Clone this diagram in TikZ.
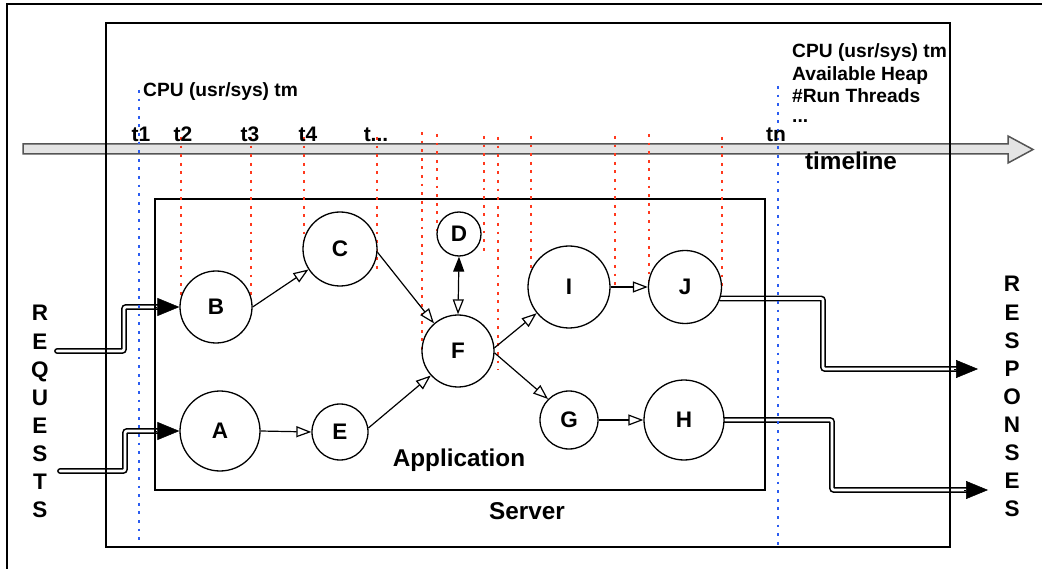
\documentclass[tikz,border=0pt]{standalone}
\usepackage{fontspec}
\setmainfont{Liberation Sans}
\usetikzlibrary{arrows.meta,calc}

\definecolor{dotred}{HTML}{FF3A1E}
\definecolor{dotblue}{HTML}{2B5CF0}
\definecolor{barfill}{HTML}{E4E4E4}
\definecolor{baredge}{HTML}{555555}

\pgfdeclarelayer{back}
\pgfsetlayers{back,main}

\begin{document}
\begin{tikzpicture}[x=1pt,y=-1pt,
  boxline/.style={line width=1.5pt},
  proc/.style={circle, draw, line width=1.3pt, fill=white, inner sep=0pt,
    font=\fontsize{22.5}{22}\selectfont\bfseries},
  flow/.style={line width=1.2pt, -{Triangle[open,length=15pt,width=11pt]}},
  probe/.style={dotred, line width=2.3pt, dash pattern=on 2.8pt off 5.8pt},
  clock/.style={dotblue, line width=2.3pt, dash pattern=on 2.8pt off 5.8pt},
  io/.style={line width=1.6pt, double=white, double distance=2.6pt,
    line cap=round, rounded corners=2pt},
  iotip/.style={line width=0.5pt, -{Triangle[length=22pt,width=18pt]}},
  lbl/.style={font=\fontsize{19.2}{22}\selectfont\bfseries, anchor=base west, inner sep=0pt},
  tick/.style={font=\fontsize{21}{22}\selectfont\bfseries, anchor=base, inner sep=0pt},
  big/.style={font=\fontsize{24.3}{24}\selectfont\bfseries, anchor=base, inner sep=0pt},
  vert/.style={font=\fontsize{22.5}{24}\selectfont\bfseries, anchor=base, inner sep=0pt}
]
\useasboundingbox (0,0) rectangle (1047,569);

% ---- processing stages ----
\node[proc, minimum size=72pt] (B) at (216,307) {B};
\node[proc, minimum size=74pt] (C) at (340,249) {C};
\node[proc, minimum size=44pt] (D) at (459,234) {D};
\node[proc, minimum size=72pt] (F) at (458,351) {F};
\node[proc, minimum size=82pt] (I) at (569,287) {I};
\node[proc, minimum size=73pt] (J) at (685,287) {J};
\node[proc, minimum size=80pt] (A) at (220,431) {A};
\node[proc, minimum size=56pt] (E) at (340,432) {E};
\node[proc, minimum size=58pt] (G) at (569,420) {G};
\node[proc, minimum size=80pt] (H) at (684,420) {H};

% ---- internal flow ----
\draw[flow] (B.east) -- (C.213);
\draw[flow] (C.-5) -- (F.131);
\draw[flow] (A.east) -- (E.west);
\draw[flow] (E.8) -- (F.222);
\draw[line width=1.2pt, {Triangle[length=15pt,width=11pt]}-{Triangle[open,length=15pt,width=11pt]}] (D.south) -- (F.north);
\draw[flow] (F.5) -- (I.219);
\draw[flow] (F.-3) -- (G.135);
\draw[flow] (I.east) -- (J.west);
\draw[flow] (G.east) -- (H.west);

% ---- labels ----
\node[big] (app) at (459,466) {Application};
\node[big] (srv) at (527,519) {Server};
\node[big] (tl) at (851,170) {timeline};

\node[lbl] (cpu1) at (143,97) {CPU (usr/sys) tm};
\node[lbl] (cpu2) at (792,58) {CPU (usr/sys) tm};
\node[lbl] (heap) at (792,81) {Available Heap};
\node[lbl] (thr) at (792,103) {\#Run Threads};
\node[lbl] (more) at (792,123) {...};

\node[tick] (t1) at (141,142) {t1};
\node[tick] (t2) at (183,142) {t2};
\node[tick] (t3) at (250,142) {t3};
\node[tick] (t4) at (308,142) {t4};
\node[tick] (tx) at (376,142) {t...};
\node[tick] (tn) at (776,142) {tn};

\foreach \ch [count=\i] in {R,E,Q,U,E,S,T,S}
  \node[vert] (req\i) at (40,{321+28.1*(\i-1)}) {\ch};
\foreach \ch [count=\i] in {R,E,S,P,O,N,S,E,S}
  \node[vert] (rsp\i) at (1012,{292+28.1*(\i-1)}) {\ch};

% ---- end points of incoming / outgoing traffic ----
\coordinate (rq1) at (57,351);
\coordinate (rq2) at (60,471);
\coordinate (rs1) at (978,369);
\coordinate (rs2) at (988,490);

\begin{pgfonlayer}{back}
  % outer frame
  \draw[boxline] (7,575) -- (7,4) -- (1042,4);
  % timeline arrow
  \draw[fill=barfill, draw=baredge, line width=1.5pt, line join=miter]
    (23,144) -- (1008,144) -- (1008,136) -- (1033,149.5) -- (1008,163)
    -- (1008,154) -- (23,154) -- cycle;
  % requests in
  \draw[io, shorten >=20pt] (rq1) -- (124,351) |- (B.west);
  \draw[iotip] ($(B.west)+(-24,0)$) -- (B.west);
  \draw[io, shorten >=20pt] (rq2) -- (125,471) |- (A.west);
  \draw[iotip] ($(A.west)+(-24,0)$) -- (A.west);
  % responses out
  \draw[io, shorten >=20pt] (J.-18) -| (823,369) -- (rs1);
  \draw[iotip] ($(rs1)+(-24,0)$) -- (rs1);
  \draw[io, shorten >=20pt] (H.east) -| (832,490) -- (rs2);
  \draw[iotip] ($(rs2)+(-24,0)$) -- (rs2);
  % server and application
  \draw[boxline] (106,23) rectangle (950,547);
  \draw[boxline] (155,199) rectangle (765,490);
  % sampling instants
  \draw[clock] (139,90) -- (139,545);
  \draw[clock] (778,86) -- (778,547);
  \foreach \x/\ya/\yb in {181/137/300, 251/137/305, 304/137/245, 377/137/270,
      422/132/351, 437/134/234, 484/136/253, 498/137/370, 531/136/290,
      615/136/287, 649/134/287, 722/137/287}
    \draw[probe] (\x,\ya) -- (\x,\yb);
\end{pgfonlayer}
\end{tikzpicture}
\end{document}
